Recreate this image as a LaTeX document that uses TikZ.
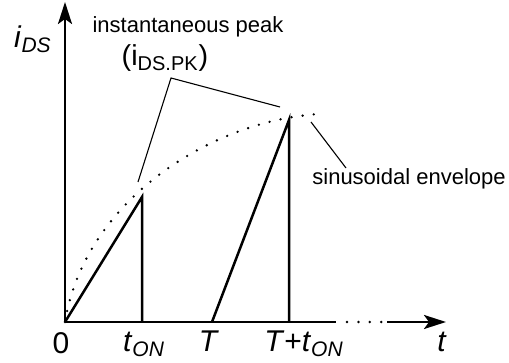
\documentclass[tikz,border=0pt]{standalone}
\usepackage{fontspec}
\setmainfont{Liberation Sans}
\usepackage{tikz}
\usetikzlibrary{arrows.meta,positioning,calc}

\begin{document}
\begin{tikzpicture}[
  x=0.5pt, y=-0.5pt,
  axis/.style={line width=1.25pt},
  axarr/.style={line width=1.25pt, -{Stealth[length=11pt,width=7pt,inset=2.5pt]}},
  axdots/.style={line width=1.4pt, line cap=round, dash pattern=on 0pt off 5.7pt},
  ramp/.style={line width=1.25pt},
  env/.style={line width=1.3pt, line cap=round, dash pattern=on 0pt off 5.6pt},
  ptr/.style={line width=0.55pt},
  tick/.style={anchor=base, inner sep=0pt, font=\fontsize{15}{18}\selectfont},
  note/.style={anchor=base, inner sep=0pt, font=\fontsize{11}{13}\selectfont}
]
\useasboundingbox (0,0) rectangle (509,363);

% Axes
\coordinate (O) at (65,322);
\coordinate (ytop) at (65,2);
\coordinate (xcut) at (336,322);
\coordinate (xdot1) at (347,322);
\coordinate (xdot2) at (382,322);
\coordinate (xres) at (387,322);
\coordinate (xend) at (446,322);
\draw[axarr] (O) -- (ytop);
\draw[axis] (O) -- (xcut);
\draw[axdots] (xdot1) -- (xdot2);
\draw[axarr] (xres) -- (xend);

% Switching pulses
\coordinate (ton) at (142,322);
\coordinate (pk1) at (142,197);
\coordinate (T) at (212,322);
\coordinate (tton) at (289,322);
\coordinate (pk2) at (289,120);
\draw[ramp] (O) -- (pk1) -- (ton);
\draw[ramp] (T) -- (pk2) -- (tton);

% Envelope
\coordinate (envend) at (320,114);
\draw[env] (O) .. controls (85,200) and (212,120) .. (envend);

% Labels
\node[tick] (lblzero) at (61,354) {0};
\node[tick] (lblton) at (144,352) {\textit{t}\textsubscript{\textit{ON}}};
\node[tick] (lblT) at (209,352) {\textit{T}};
\node[tick] (lblTton) at (304,352) {\textit{T}+\textit{t}\textsubscript{\textit{ON}}};
\node[tick] (lblt) at (442,352) {\textit{t}};
\node[tick] (lblids) at (33,48) {\textit{i}\textsubscript{\textit{DS}}};
\node[note] (lblpeak) at (188,33) {instantaneous peak};
\node[tick, font=\fontsize{14.4}{17}\selectfont] (lblpk) at (165,66) {(i\textsubscript{DS.PK})};
\node[note, anchor=base west] (lblenv) at (312,185) {sinusoidal envelope};

% Pointers
\coordinate (pkjoin) at (171,78);
\coordinate (pk1tip) at (138,182);
\coordinate (pk2tip) at (280,107);
\coordinate (envtip) at (311,122);
\coordinate (envlead) at (346,168);
\draw[ptr] (pk1tip) -- (pkjoin) -- (pk2tip);
\draw[ptr] (envtip) -- (envlead);
\end{tikzpicture}
\end{document}
